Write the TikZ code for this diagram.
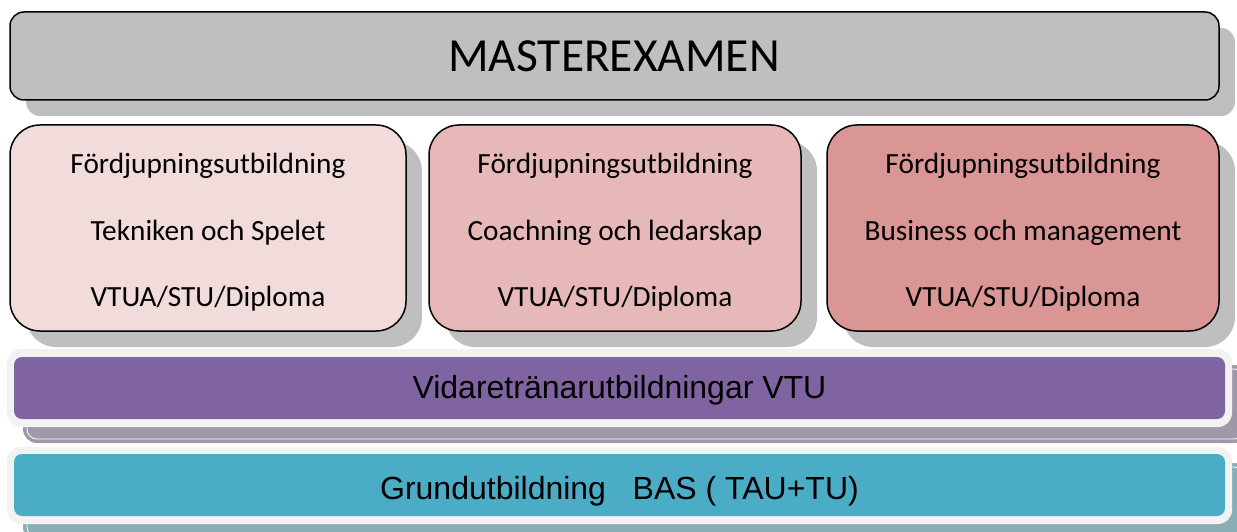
\documentclass[tikz,border=0pt]{standalone}
\usepackage{fontspec}
\setmainfont{Carlito}
\newfontfamily\arialf{Liberation Sans}
\definecolor{topgray}{HTML}{BFBFBF}
\definecolor{pinkA}{HTML}{F2DCDB}
\definecolor{pinkB}{HTML}{E6B9B8}
\definecolor{pinkC}{HTML}{D99694}
\definecolor{purp}{HTML}{8064A2}
\definecolor{purpsh}{HTML}{A098AA}
\definecolor{teal}{HTML}{4BACC6}
\definecolor{tealsh}{HTML}{8BADB4}
\definecolor{frame}{HTML}{F2F2F2}
\definecolor{boxsh}{HTML}{BFBFBF}
\begin{document}
\begin{tikzpicture}[x=1pt,y=-1pt,
  box/.style={rectangle, draw=black, line width=1.5pt, inner sep=0pt, outer sep=0pt},
  bar/.style={rectangle, inner sep=0pt, outer sep=0pt},
  midtxt/.style={anchor=base, inner sep=0pt, font=\fontsize{29.3}{34}\selectfont},
  bartxt/.style={anchor=base, inner sep=0pt, font=\arialf\fontsize{32}{38}\selectfont}]
\useasboundingbox (0,0) rectangle (1237,532);
\clip (0,0) rectangle (1237,532);
% shadows
\fill[boxsh, rounded corners=14pt] (26,28) rectangle (1235,116);
\foreach \a/\b in {10/406, 429/801, 827/1219}{
  \fill[boxsh, rounded corners=30pt] (\a+16,141) rectangle (\b+16,347);
}
\fill[purpsh, rounded corners=14pt] (23,365) rectangle (1248,443);
\draw[white, line width=0.8pt, rounded corners=10pt] (27,369) rectangle (1244,439);
\fill[tealsh, rounded corners=14pt] (23,463) rectangle (1248,541);
\draw[white, line width=0.8pt, rounded corners=10pt] (27,467) rectangle (1244,537);
% top box
\node[box, fill=topgray, rounded corners=14pt, minimum width=1209pt, minimum height=88pt] (master) at (614.5,56) {};
\node[anchor=base, inner sep=0pt, font=\fontsize{47.5}{56}\selectfont] (mastert) at (614,71.7) {MASTEREXAMEN};
% middle boxes
\node[box, fill=pinkA, rounded corners=30pt, minimum width=396pt, minimum height=206pt] (b1) at (208,228) {};
\node[box, fill=pinkB, rounded corners=30pt, minimum width=372pt, minimum height=206pt] (b2) at (615,228) {};
\node[box, fill=pinkC, rounded corners=30pt, minimum width=392pt, minimum height=206pt] (b3) at (1023,228) {};
\node[midtxt] (b1a) at (208,173.3) {Fördjupningsutbildning};
\node[midtxt] (b1b) at (208,240) {Tekniken och Spelet};
\node[midtxt] (b1c) at (208,306.7) {VTUA/STU/Diploma};
\node[midtxt] (b2a) at (615,173.3) {Fördjupningsutbildning};
\node[midtxt] (b2b) at (615,240) {Coachning och ledarskap};
\node[midtxt] (b2c) at (615,306.7) {VTUA/STU/Diploma};
\node[midtxt] (b3a) at (1023,173.3) {Fördjupningsutbildning};
\node[midtxt] (b3b) at (1023,240) {Business och management};
\node[midtxt] (b3c) at (1023,306.7) {VTUA/STU/Diploma};
% purple bar
\node[bar, fill=frame, rounded corners=14pt, minimum width=1225pt, minimum height=78pt] (vframe) at (619.5,388) {};
\node[bar, fill=purp, rounded corners=8pt, minimum width=1211pt, minimum height=62pt] (vtu) at (619.5,388) {};
\node[bartxt] (vtut) at (619.5,398.3) {Vidaretränarutbildningar VTU};
% teal bar
\node[bar, fill=frame, rounded corners=14pt, minimum width=1225pt, minimum height=77pt] (gframe) at (619.5,485.5) {};
\node[bar, fill=teal, rounded corners=8pt, minimum width=1211pt, minimum height=62pt] (bas) at (619.5,485) {};
\node[bartxt] (bast) at (619.5,499.3) {Grundutbildning\ \ \ BAS ( TAU+TU)};
\end{tikzpicture}
\end{document}
